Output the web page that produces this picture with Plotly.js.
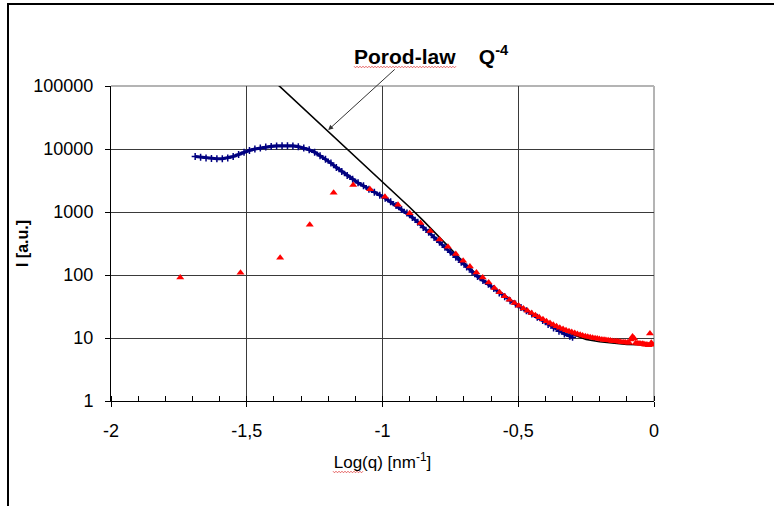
<!DOCTYPE html>
<html>
<head>
<meta charset="utf-8">
<script src="https://cdn.plot.ly/plotly-3.0.1.min.js"></script>
<style>
  html, body { margin: 0; padding: 0; background: #ffffff; }
  #frame { position: absolute; left: 7px; top: 3px; width: 900px; height: 700px;
           border-left: 2px solid #000; border-top: 2px solid #000; }
  #chart { position: absolute; left: 0; top: 0; width: 774px; height: 506px; }
</style>
</head>
<body>
<div id="frame"></div>
<div id="chart"></div>
<script>
// ---- Blue series (measured curve) ----
const blueX = [-1.69,-1.67,-1.65,-1.63,-1.61,-1.59,-1.57,-1.55,-1.53,-1.51,-1.49,-1.47,-1.45,-1.43,-1.41,-1.39,-1.37,-1.35,-1.33,-1.31,-1.29,-1.27,-1.25,-1.23,-1.21,-1.19,-1.17,-1.15,-1.13,-1.11,-1.09,-1.07,-1.05,-1.03,-1.01,-0.99,-0.97,-0.95,-0.93,-0.91,-0.89,-0.87,-0.85,-0.83,-0.81,-0.79,-0.77,-0.75,-0.73,-0.71,-0.69,-0.67,-0.65,-0.63,-0.61,-0.59,-0.57,-0.55,-0.53,-0.51,-0.49,-0.47,-0.45,-0.43,-0.41,-0.39,-0.37,-0.35,-0.33,-0.31,-0.30];
const blueY = [7600,7400,7200,7050,7000,7000,7200,7600,8200,8900,9500,10000,10400,10800,11000,11200,11300,11300,11200,10900,10400,9700,8900,7800,6900,6000,5100,4400,3800,3300,2900,2600,2300,2050,1850,1660,1450,1270,1100,960,820,690,570,475,395,330,275,230,192,160,134,112,95,82,71,61,52,45,39,34.5,30.5,27,24,21.3,19,16.4,14.4,12.8,11.6,10.7,10.3];

// ---- Red series (triangles) ----
const redX = [-1.745,-1.523,-1.377,-1.268,-1.180,-1.108,-1.046,-0.991,-0.943,-0.900,-0.860,-0.824,-0.790,-0.759,-0.730,-0.703,-0.678,-0.654,-0.631,-0.609,-0.588,-0.569,-0.550,-0.532,-0.514,-0.498,-0.481,-0.466,-0.451,-0.437,-0.423,-0.409,-0.396,-0.383,-0.371,-0.359,-0.347,-0.335,-0.324,-0.313,-0.303,-0.292,-0.282,-0.272,-0.263,-0.253,-0.244,-0.235,-0.226,-0.217,-0.209,-0.201,-0.192,-0.184,-0.177,-0.169,-0.161,-0.154,-0.146,-0.139,-0.132,-0.125,-0.118,-0.111,-0.105,-0.098,-0.092,-0.085,-0.079,-0.073,-0.067,-0.060,-0.055,-0.049,-0.043,-0.037,-0.032,-0.026,-0.020,-0.015,-0.010,-0.004];
const redY = [91,109,188,630,2020,2690,2290,1750,1300,955,668,500,365,280,215,168,136,110,91,76,62,53,46,40.5,36,32.5,29.5,27,25,23,21.3,19.8,18.5,17.3,16.3,15.4,14.6,13.9,13.3,12.8,12.4,12.0,11.6,11.3,11.0,10.7,10.5,10.3,10.1,9.9,9.8,9.6,9.5,9.4,9.3,9.2,9.1,9.0,8.9,8.85,8.8,8.7,8.6,8.6,8.5,8.5,8.4,9.5,10.6,9.8,8.3,8.2,8.2,8.1,8.1,8.0,7.8,7.9,7.7,11.8,8.4,7.8];

// ---- Black Porod-law fit line ----
const fitX = [-1.40,-1.35,-1.30,-1.25,-1.20,-1.15,-1.10,-1.05,-1.00,-0.95,-0.90,-0.85,-0.80,-0.75,-0.70,-0.65,-0.60,-0.55,-0.50,-0.45,-0.40,-0.35,-0.30,-0.25,-0.20,-0.15,-0.10,-0.05,0];
const fitY = [120000,75900,47900,30200,19100,12000,7590,4790,3020,1905,1190,730,440,262,158,100,66,46,33,24.5,18.5,14,11.4,9.5,8.7,8.2,7.9,7.8,7.7];

// ---- Axis ticks ----
const xTickVals = [-2,-1.5,-1,-0.5,0];
const xTickText = ['-2','-1,5','-1','-0,5','0'];
const yTickVals = [1,10,100,1000,10000,100000];
const yTickText = ['1','10','100','1000','10000','100000'];

// ---- Annotation ----
const arrowTip = [-1.2, 20000];
const labelText = '<b>Porod-law</b>&nbsp;&nbsp;&nbsp;&nbsp;<b>Q<sup>-4</sup></b>';

const FONT = 'Liberation Sans, Arial, Helvetica, sans-serif';

// decorative red spell-check squiggle (pixel -> paper helper)
const M = {l: 111, r: 120, t: 86, b: 105};
const PW = 774 - M.l - M.r, PH = 506 - M.t - M.b;
function squiggle(px0, px1, py) {
  let d = '';
  let up = true;
  for (let px = px0; px <= px1; px += 1.5) {
    const xp = (px - M.l) / PW;
    const yp = (506 - M.b - (py + (up ? -0.8 : 0.8))) / PH;
    d += (d === '' ? 'M' : 'L') + xp.toFixed(5) + ',' + yp.toFixed(5) + ' ';
    up = !up;
  }
  return {type: 'path', xref: 'paper', yref: 'paper', path: d,
          line: {color: '#e04040', width: 0.8}, layer: 'above'};
}

const traces = [
  {
    x: fitX, y: fitY, type: 'scatter', mode: 'lines',
    line: {color: '#000000', width: 1.6}, hoverinfo: 'skip'
  },
  {
    x: blueX, y: blueY, type: 'scatter', mode: 'lines+markers',
    line: {color: '#000080', width: 3.2},
    marker: {symbol: 'cross-thin-open', size: 5, line: {color: '#000080', width: 1.5}, color: '#000080'}
  },
  {
    x: redX, y: redY, type: 'scatter', mode: 'markers',
    marker: {symbol: 'triangle-up', size: 7, color: '#ff0000', line: {width: 0}}
  }
];

const layout = {
  width: 774, height: 506,
  margin: {l: M.l, r: M.r, t: M.t, b: M.b, pad: 0},
  paper_bgcolor: 'rgba(0,0,0,0)',
  plot_bgcolor: '#ffffff',
  showlegend: false,
  font: {family: FONT, color: '#000000', size: 18},
  xaxis: {
    range: [-2, 0], autorange: false,
    tickmode: 'array', tickvals: xTickVals, ticktext: xTickText,
    ticks: 'outside', ticklen: 5, tickcolor: '#000', tickwidth: 1,
    ticklabelstandoff: 8,
    tickfont: {family: FONT, size: 18, color: '#000'},
    showgrid: true, gridcolor: '#3a3a3a', gridwidth: 1,
    zeroline: false,
    showline: true, linecolor: '#000000', linewidth: 1,
    minor: {dtick: 0.1, tick0: 0, ticks: 'inside', ticklen: 5, tickcolor: '#000', tickwidth: 1, showgrid: false},
    title: {text: 'Log(q) [nm<sup>-1</sup>]', font: {family: FONT, size: 17, color: '#000'}, standoff: 16}
  },
  yaxis: {
    type: 'log', range: [0, 5], autorange: false,
    tickmode: 'array', tickvals: yTickVals, ticktext: yTickText,
    ticks: 'outside', ticklen: 5, tickcolor: '#000', tickwidth: 1,
    ticklabelstandoff: 8,
    tickfont: {family: FONT, size: 18, color: '#000'},
    showgrid: true, gridcolor: '#3a3a3a', gridwidth: 1,
    zeroline: false,
    showline: true, linecolor: '#000000', linewidth: 1,
    title: {text: '<b>I [a.u.]</b>', font: {family: FONT, size: 16, color: '#000'}, standoff: 0}
  },
  shapes: [
    {type: 'line', xref: 'paper', yref: 'paper', x0: 0, x1: 1, y0: 1, y1: 1,
     line: {color: '#b4b4b4', width: 2}, layer: 'between'},
    {type: 'line', xref: 'paper', yref: 'paper', x0: 1, x1: 1, y0: 0, y1: 1,
     line: {color: '#b4b4b4', width: 2}, layer: 'between'},
    squiggle(354, 456, 67),
    squiggle(333, 364, 472)
  ],
  annotations: [
    {
      xref: 'paper', yref: 'paper', x: 0.4438, y: 1.098,
      xanchor: 'left', yanchor: 'middle', showarrow: false,
      text: labelText, font: {family: FONT, size: 21, color: '#000'}
    },
    {
      xref: 'x', yref: 'y', x: arrowTip[0], y: Math.log10(arrowTip[1]),
      axref: 'pixel', ayref: 'pixel', ax: 68, ay: -62,
      text: '', showarrow: true, arrowhead: 2, arrowsize: 1, arrowwidth: 1,
      arrowcolor: '#333333'
    }
  ]
};

Plotly.newPlot('chart', traces, layout, {displayModeBar: false, staticPlot: true});
</script>
</body>
</html>
